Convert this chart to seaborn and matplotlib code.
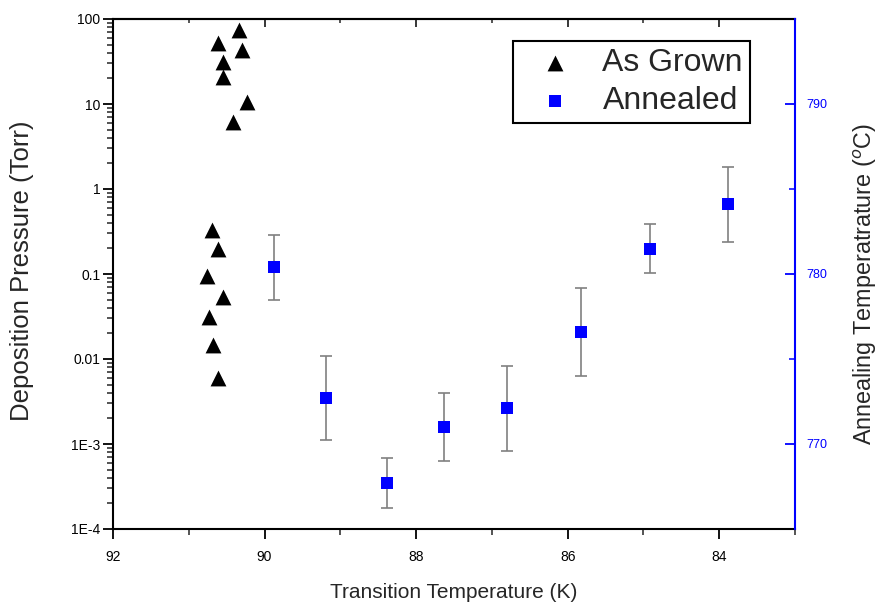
import numpy as np
import seaborn as sns
import matplotlib
matplotlib.use('Agg')
import matplotlib.pyplot as plt
from matplotlib.ticker import FixedLocator, FixedFormatter, NullFormatter

# As Grown: transition temperature (K) vs deposition pressure (Torr)
grown_t = [90.34, 90.61, 90.30, 90.55, 90.55, 90.23, 90.41,
           90.69, 90.61, 90.76, 90.55, 90.73, 90.68, 90.61]
grown_p = [74, 52, 43, 31, 21, 10.6, 6.1,
           0.33, 0.197, 0.095, 0.054, 0.031, 0.0146, 0.006]

# Annealed: transition temperature (K) vs annealing temperature (C)
ann_t = [89.87, 89.19, 88.38, 87.63, 86.80, 85.83, 84.92, 83.88]
ann_temp = [780.4, 772.7, 767.7, 771.0, 772.1, 776.6, 781.5, 784.1]
ann_err = [1.9, 2.45, 1.45, 2.0, 2.5, 2.6, 1.45, 2.2]

x_ticks = [92, 90, 88, 86, 84]
p_ticks = [1e-4, 1e-3, 1e-2, 1e-1, 1, 10, 100]
p_labels = ['1E-4', '1E-3', '0.01', '0.1', '1', '10', '100']
temp_ticks = [770, 780, 790]

sns.set_style('ticks')
plt.rcParams['font.family'] = ['Liberation Sans', 'DejaVu Sans']

fig = plt.figure(figsize=(8.8, 6.04), dpi=100)
ax = fig.add_axes([113 / 880, 1 - 529 / 604, 682 / 880, 510 / 604])
ax2 = ax.twinx()

# left axis: as grown
sns.scatterplot(x=grown_t, y=grown_p, marker='^', color='black', s=130,
                linewidth=0, ax=ax, label='As Grown', legend=False)
ax.set_yscale('log')
ax.set_ylim(1e-4, 100)
ax.set_xlim(92, 83)
ax.yaxis.set_major_locator(FixedLocator(p_ticks))
ax.yaxis.set_major_formatter(FixedFormatter(p_labels))
ax.yaxis.set_minor_formatter(NullFormatter())
ax.set_xticks(x_ticks)
ax.set_xticks([91, 89, 87, 85, 83], minor=True)
ax.tick_params(axis='both', which='major', direction='out', length=7, width=1.3,
               labelsize=10, colors='black')
ax.tick_params(axis='both', which='minor', direction='out', length=4, width=1.1)
ax.tick_params(axis='y', right=False, pad=2)
ax.tick_params(axis='x', top=False, pad=8)
for s in ax.spines.values():
    s.set_linewidth(1.5)
    s.set_color('black')
ax.spines['right'].set_visible(False)

# top ticks pointing in
top = ax.secondary_xaxis('top')
top.set_xticks(x_ticks)
top.set_xticks([91, 89, 87, 85, 83], minor=True)
top.tick_params(which='major', direction='in', length=6, width=1.3, labeltop=False)
top.tick_params(which='minor', direction='in', length=3, width=1.1)
top.spines['top'].set_linewidth(1.5)

# right axis: annealed
ax2.errorbar(ann_t, ann_temp, yerr=ann_err, fmt='none', ecolor='#808080',
             elinewidth=1.2, capsize=4, capthick=1.2, zorder=1)
sns.scatterplot(x=ann_t, y=ann_temp, marker='s', color='#0000ff', s=80,
                linewidth=0, ax=ax2, label='Annealed', legend=False, zorder=3)
ax2.set_ylim(765, 795)
ax2.set_yticks(temp_ticks)
ax2.set_yticks([775, 785], minor=True)
ax2.tick_params(axis='y', which='major', direction='in', length=7, width=1.3,
                colors='#0000ff', labelsize=9, pad=8)
ax2.tick_params(axis='y', which='minor', direction='in', length=4, width=1.1,
                colors='#0000ff')
for k in ['left', 'top', 'bottom']:
    ax2.spines[k].set_visible(False)
ax2.spines['right'].set_color('#0000ff')
ax2.spines['right'].set_linewidth(1.5)
ax2.set_ylabel('')

# labels
ax.set_xlabel('Transition Temperature (K)', fontsize=15)
ax.xaxis.set_label_coords(0.5, -0.105)
ax.xaxis.label.set_va('top')
fig.text(22 / 880, 1 - 271 / 604, 'Deposition Pressure (Torr)', rotation=90,
         ha='center', va='center', fontsize=18.5)
fig.text(865 / 880, 1 - 284 / 604, 'Annealing Temperatrature ($^o$C)', rotation=90,
         ha='center', va='center', fontsize=16.8)

# legend
h1, l1 = ax.get_legend_handles_labels()
h2, l2 = ax2.get_legend_handles_labels()
leg = ax2.legend(h1 + h2, l1 + l2, loc='upper left', bbox_to_anchor=(0.587, 0.957),
                 borderaxespad=0, fontsize=23, frameon=True, fancybox=False,
                 edgecolor='black', framealpha=1, handlelength=2.19,
                 handletextpad=0.38, borderpad=0.22, labelspacing=0.26)
leg.get_frame().set_linewidth(1.5)

fig.savefig('out.png', dpi=100)
